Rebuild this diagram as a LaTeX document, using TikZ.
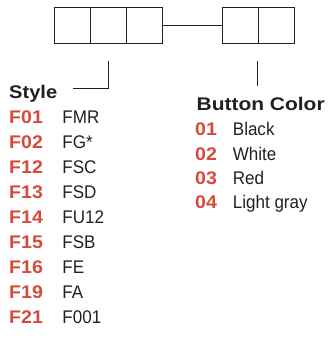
\documentclass[tikz,border=0pt]{standalone}
\usepackage{fontspec}
\setmainfont{Liberation Sans}[FakeStretch=0.93,BoldFeatures={FakeStretch=1.07}]
\definecolor{codered}{HTML}{D64A3B}
\definecolor{ink}{HTML}{231F20}
\begin{document}
\begin{tikzpicture}[x=1pt,y=-1pt,
  cell/.style={draw=ink,line width=1pt,minimum width=36pt,minimum height=36pt,inner sep=0pt,outer sep=0pt},
  lead/.style={draw=ink,line width=1pt},
  hdr/.style={anchor=base west,inner sep=0pt,font=\fontsize{18.3}{20}\selectfont\bfseries,text=ink},
  code/.style={anchor=base west,inner sep=0pt,font=\fontsize{18.3}{20}\selectfont\bfseries,text=codered},
  item/.style={anchor=base west,inner sep=0pt,font=\fontsize{18.3}{20}\selectfont,text=ink}]
\useasboundingbox (0,0) rectangle (336,338);
% boxes
\node[cell,anchor=north west] (a1) at (54.5,7.3) {};
\node[cell,anchor=west] (a2) at (a1.east) {};
\node[cell,anchor=west] (a3) at (a2.east) {};
\node[cell,anchor=north west] (b1) at (222.5,7.3) {};
\node[cell,anchor=west] (b2) at (b1.east) {};
\draw[lead] (a3.east) -- (b1.west);
% leaders
\coordinate (s1) at (108.7,61);
\coordinate (s2) at (108.7,88.7);
\coordinate (s3) at (72.7,88.7);
\draw[lead] (s1) -- (s2) -- (s3);
\coordinate (c1) at (257.7,61);
\coordinate (c2) at (257.7,86);
\draw[lead] (c1) -- (c2);
% headers
\node[hdr] (style) at (9,98.5) {\resizebox{48pt}{\height}{Style}};
\node[hdr] (bcolor) at (196.5,110.7) {\resizebox{128pt}{\height}{Button Color}};
% style list
\foreach \c/\t [count=\i from 0] in {F01/FMR,F02/FG*,F12/FSC,F13/FSD,F14/FU12,F15/FSB,F16/FE,F19/FA,F21/F001}{
  \node[code] (sc\i) at (9,123.7+24.95*\i) {\c};
  \node[item] (st\i) at (62.3,123.7+24.95*\i) {\t};
}
% color list
\foreach \c/\t [count=\i from 0] in {01/Black,02/White,03/Red,04/Light gray}{
  \node[code] (cc\i) at (195,135.8+24.2*\i) {\c};
  \node[item] (ct\i) at (232.7,135.8+24.2*\i) {\t};
}
\end{tikzpicture}
\end{document}
